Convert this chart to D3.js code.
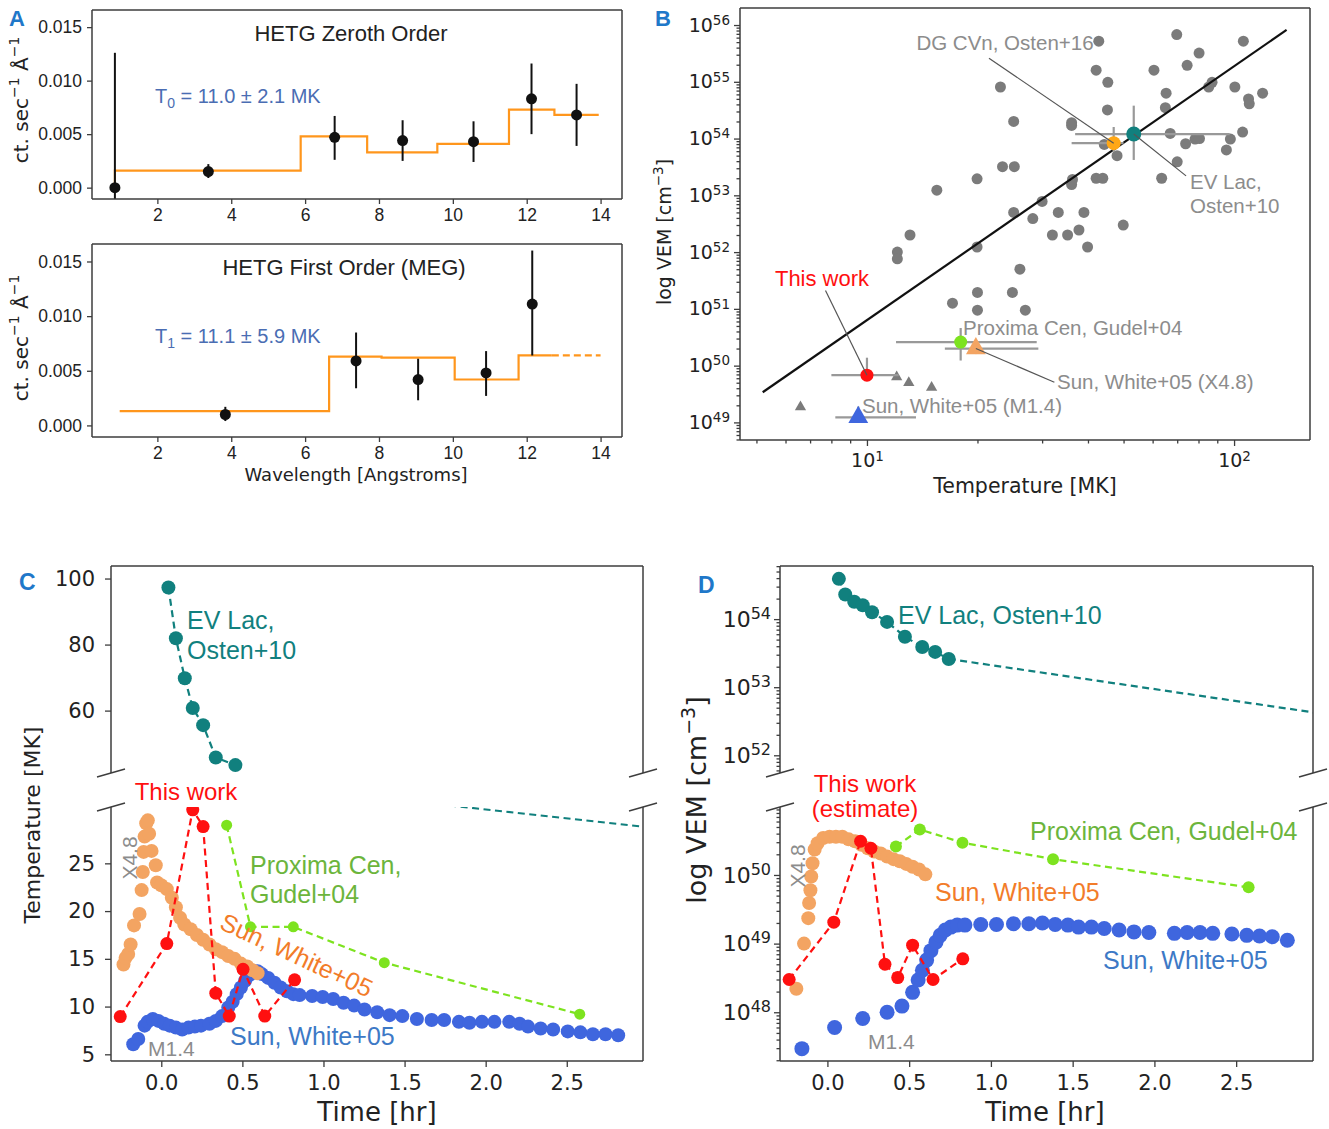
<!DOCTYPE html>
<html>
<head>
<meta charset="utf-8">
<script src="https://cdn.jsdelivr.net/npm/d3@7"></script>
<style>
  body { margin: 0; background: #fff; }
</style>
</head>
<body>
<svg id="fig" width="1329" height="1129"></svg>
<script>
// ---------- panel A: HETG spectra ----------
const waveTicks = [2, 4, 6, 8, 10, 12, 14];
const rateTicks = [0, 0.005, 0.010, 0.015];

const zerothWave = [0.85, 3.38, 6.8, 8.64, 10.56, 12.13, 13.35];
const zerothRate = [0.0000, 0.0015, 0.0047, 0.0044, 0.0043, 0.0083, 0.0068];
const zerothLow  = [-0.0015, 0.0009, 0.0026, 0.0025, 0.0024, 0.0050, 0.0039];
const zerothHigh = [0.0126, 0.0022, 0.0067, 0.0063, 0.0062, 0.0116, 0.0097];
const zerothStepX = [0.85, 0.85, 5.88, 7.68, 9.58, 11.52, 12.75, 13.95];
const zerothStepY = [0.0, 0.0016, 0.0048, 0.0033, 0.0041, 0.0073, 0.0068, 0.0068];

const firstWave = [3.84, 7.38, 9.06, 10.9, 12.15];
const firstRate = [0.0010, 0.0059, 0.0042, 0.0048, 0.0111];
const firstLow  = [0.0004, 0.0034, 0.0023, 0.0027, 0.0064];
const firstHigh = [0.0017, 0.0085, 0.0061, 0.0068, 0.0160];
const firstStepX = [0.98, 6.65, 8.07, 10.05, 11.78, 12.68];
const firstStepY = [0.0013, 0.0063, 0.0062, 0.0042, 0.0064, 0.0064];
const firstExtX = [12.68, 14.0];
const firstExtY = [0.0064, 0.0064];

// ---------- panel B: VEM vs temperature ----------
const flareT = [42.8, 69.8, 106, 80.3, 74.5, 60.5, 42.1, 45.3, 87.1, 85.3, 100.5, 119.6, 109.5, 110,
  65.3, 23.1, 25.1, 45.2, 65.0, 36.1, 36.1, 67.0, 73.8, 78.3, 80.5, 97.7, 105.5, 95.3, 70, 63.5,
  44.3, 48, 42.1, 43.9, 36.3, 36.1, 23.4, 25.2, 19.95, 15.5, 30, 25.1, 28.3, 33.2, 39, 32, 35.2,
  37.8, 39.9, 49.9, 19.95, 13.1, 12.1, 12.1, 26.1, 20, 24.9, 17.1, 20, 27];
const flareVEM = [5.2e55, 6.8e55, 5.2e55, 3.2e55, 1.95e55, 1.6e55, 1.6e55, 9.8e54, 9.8e54, 8.1e54, 8.1e54, 6.3e54, 5.0e54, 4.1e54,
  6.3e54, 8.1e54, 2.0e54, 3.2e54, 3.5e54, 1.9e54, 1.7e54, 1.23e54, 8.1e53, 9.8e53, 1.0e54, 9.8e53, 1.3e54, 6.3e53, 3.9e53, 2.0e53,
  7.9e53, 5.0e53, 2.0e53, 2.0e53, 1.9e53, 1.55e53, 3.2e53, 3.2e53, 1.95e53, 1.23e53, 7.8e52, 5.0e52, 3.9e52, 5.0e52, 5.0e52, 2.0e52, 2.0e52,
  2.45e52, 1.23e52, 3.0e52, 1.23e52, 2.0e52, 1.0e52, 7.6e51, 5.0e51, 1.95e51, 1.95e51, 1.26e51, 9.5e50, 9.5e50];
const solarT = [6.59, 12.05, 13.0, 15.0];
const solarVEM = [1.86e49, 6.3e49, 5.0e49, 4.1e49];
const fitT = [5.2, 139];
const fitVEM = [3.4e49, 8.2e55];

const markedName = ["EV Lac", "DG CVn", "This work", "Proxima Cen", "Sun X4.8", "Sun M1.4"];
const markedT    = [53.3, 47.0, 10.0, 18.0, 19.8, 9.47];
const markedTlo  = [36.9, 36.1, 8.0, 12.0, 16.3, 8.2];
const markedThi  = [97.3, 50.0, 12.2, 29.0, 29.3, 13.6];
const markedVEM  = [1.2e54, 8.3e53, 6.8e49, 2.6e50, 2.0e50, 1.23e49];
const markedVlo  = [4.2e53, 5.9e53, 5.5e49, 1.23e50, 1.6e50, 1.0e49];
const markedVhi  = [3.8e54, 1.6e54, 1.38e50, 4.6e50, 2.7e50, 1.9e49];

// ---------- panels C, D: time evolution ----------
const timeTicks = [0, 0.5, 1.0, 1.5, 2.0, 2.5];

const evLacTime = [0.044, 0.09, 0.145, 0.194, 0.258, 0.336, 0.457];
const evLacTemp = [97.3, 81.9, 69.8, 60.8, 55.6, 45.8, 43.5];
const evLacTempExtTime = [1.0, 3.1];
const evLacTempExt = [32.5, 28.6];
const thisTempTime = [-0.253, 0.034, 0.194, 0.258, 0.336, 0.419, 0.504, 0.638, 0.822];
const thisTemp = [8.95, 16.6, 30.6, 28.85, 11.4, 9.0, 13.9, 9.0, 12.8];
const proxTempTime = [0.403, 0.55, 0.814, 1.375, 2.58];
const proxTemp = [29.0, 18.35, 18.35, 14.6, 9.2];
const x48TempTime = [-0.233, -0.22, -0.204, -0.189, -0.168, -0.134, -0.121, -0.114, -0.109, -0.103, -0.093,
  -0.083, -0.075, -0.06, -0.034, -0.026, 0, 0.034, 0.065, 0.09, 0.116, 0.142, 0.181, 0.22, 0.258, 0.297,
  0.336, 0.375, 0.413, 0.452, 0.491, 0.53, 0.563, 0.594];
const x48Temp = [14.4, 15.1, 15.5, 16.5, 18.5, 19.7, 22.2, 24.1, 26.2, 27.8, 29.2,
  29.5, 28.1, 26.3, 24.8, 23.0, 22.7, 22.3, 21.4, 20.4, 19.3, 18.6, 18.1, 17.5, 17.0, 16.5,
  16.0, 15.7, 15.3, 15.0, 14.5, 14.2, 13.8, 13.5];
const m14TempTime = [-0.173, -0.142, -0.103, -0.085, -0.052, -0.018, 0.018, 0.052, 0.09, 0.129,
  0.168, 0.207, 0.245, 0.297, 0.336, 0.375, 0.413, 0.44, 0.465, 0.491, 0.517, 0.543, 0.568, 0.594, 0.62,
  0.659, 0.698, 0.736, 0.775, 0.814, 0.853, 0.93, 0.995, 1.06, 1.124, 1.189, 1.253, 1.331, 1.408, 1.486,
  1.576, 1.667, 1.744, 1.835, 1.9, 1.977, 2.054, 2.145, 2.209, 2.261, 2.339, 2.416, 2.506, 2.584, 2.661,
  2.739, 2.817];
const m14Temp = [6.05, 6.6, 8.0, 8.4, 8.7, 8.5, 8.2, 8.0, 7.8, 7.6,
  7.8, 7.9, 8.0, 8.2, 8.5, 9.0, 9.9, 10.5, 11.3, 12.0, 12.7, 13.3, 13.7, 13.7, 13.4,
  13.0, 12.5, 12.0, 11.6, 11.3, 11.2, 11.1, 11.0, 10.8, 10.4, 10.1, 9.7, 9.4, 9.1, 9.0,
  8.7, 8.6, 8.6, 8.4, 8.3, 8.4, 8.4, 8.4, 8.2, 7.9, 7.7, 7.6, 7.4, 7.3, 7.1,
  7.1, 7.0];

const evLacVemTime = [0.07, 0.109, 0.164, 0.216, 0.273, 0.365, 0.474, 0.58, 0.659, 0.742];
const evLacVem = [3.9e54, 2.3e54, 1.8e54, 1.6e54, 1.26e54, 9.1e53, 5.5e53, 3.9e53, 3.3e53, 2.6e53];
const evLacVemExtTime = [0.742, 3.1];
const evLacVemExt = [2.6e53, 3.85e52];
const thisVemTime = [-0.234, 0.039, 0.203, 0.266, 0.352, 0.43, 0.521, 0.646, 0.828];
const thisVem = [3.0e48, 2.05e49, 3.1e50, 2.45e50, 5.0e48, 3.2e48, 9.5e48, 3.0e48, 6.0e48];
const proxVemTime = [0.419, 0.565, 0.826, 1.38, 2.576];
const proxVem = [2.6e50, 4.6e50, 2.95e50, 1.7e50, 6.6e49];
const x48VemTime = [-0.19, -0.143, -0.117, -0.112, -0.104, -0.099, -0.091, -0.078, -0.06, -0.026, 0.013,
  0.052, 0.091, 0.13, 0.169, 0.208, 0.247, 0.286, 0.326, 0.365, 0.404, 0.443, 0.482, 0.521, 0.56, 0.599];
const x48Vem = [2.2e48, 1.0e49, 2.35e49, 3.9e49, 6.0e49, 9.5e49, 1.48e50, 2.35e50, 2.9e50, 3.45e50, 3.6e50,
  3.6e50, 3.6e50, 3.3e50, 3.1e50, 2.75e50, 2.45e50, 2.2e50, 2.05e50, 1.85e50, 1.7e50, 1.58e50, 1.45e50, 1.32e50, 1.2e50, 1.02e50];
const m14VemTime = [-0.156, 0.044, 0.216, 0.365, 0.456, 0.521, 0.555, 0.581, 0.607, 0.633,
  0.664, 0.69, 0.721, 0.755, 0.794, 0.841, 0.938, 1.034, 1.138, 1.232,
  1.315, 1.393, 1.471, 1.536, 1.615, 1.693, 1.784, 1.875, 1.966, 2.122,
  2.2, 2.279, 2.357, 2.474, 2.565, 2.643, 2.721, 2.813];
const m14Vem = [2.95e47, 6.0e47, 8.1e47, 1.0e48, 1.23e48, 1.95e48, 2.95e48, 4.1e48, 5.75e48, 7.9e48,
  1.05e49, 1.32e49, 1.58e49, 1.74e49, 1.86e49, 1.86e49, 1.9e49, 1.9e49, 1.95e49, 1.95e49,
  2.0e49, 1.9e49, 1.86e49, 1.74e49, 1.74e49, 1.66e49, 1.58e49, 1.48e49, 1.45e49, 1.41e49,
  1.45e49, 1.45e49, 1.41e49, 1.38e49, 1.32e49, 1.29e49, 1.26e49, 1.12e49];

// ---------- styles ----------
const ink = "#3d3d3d";
const ARIAL = "'Liberation Sans', Arial, sans-serif";
const DEJAVU = "'DejaVu Sans', sans-serif";
const letterBlue = "#1f78c9";
const teal = "#11807e";
const red = "#ff1010";
const green = "#7de31f";
const greenText = "#6cb53c";
const sand = "#f3a462";
const sandText = "#f27c2a";
const royal = "#3f66de";
const royalText = "#3d79c6";
const grayDot = "#7b7b7b";
const grayText = "#8c8c8c";

const svg = d3.select("#fig");

function addText(x, y, str, o = {}) {
  const t = svg.append("text").attr("x", x).attr("y", y)
    .attr("font-family", o.font || ARIAL).attr("font-size", o.size || 18)
    .attr("fill", o.color || "#222").attr("text-anchor", o.anchor || "start");
  if (o.rotate) t.attr("transform", `rotate(${o.rotate},${x},${y})`);
  if (o.weight) t.attr("font-weight", o.weight);
  if (str != null) t.text(str);
  return t;
}

// text made of pieces, some raised (sup) or lowered (sub)
function richText(t, parts, small, shift) {
  let cur = 0;
  parts.forEach(([s, kind]) => {
    const target = kind === "sup" ? -shift : kind === "sub" ? shift * 0.6 : 0;
    const ts = t.append("tspan").attr("dy", target - cur).text(s);
    if (kind) ts.attr("font-size", small);
    cur = target;
  });
  return t;
}

function frame(x0, x1, y0, y1, sides) {
  const g = svg.append("g").attr("stroke", ink).attr("stroke-width", 1.5).attr("fill", "none");
  const seg = (a, b, c, d) => g.append("line").attr("x1", a).attr("y1", b).attr("x2", c).attr("y2", d);
  if (sides.includes("t")) seg(x0, y0, x1, y0);
  if (sides.includes("b")) seg(x0, y1, x1, y1);
  if (sides.includes("l")) seg(x0, y0, x0, y1);
  if (sides.includes("r")) seg(x1, y0, x1, y1);
}

function clip(id, x0, x1, y0, y1) {
  svg.append("clipPath").attr("id", id).append("rect")
    .attr("x", x0).attr("y", y0).attr("width", x1 - x0).attr("height", y1 - y0);
  return svg.append("g").attr("clip-path", `url(#${id})`);
}

function styleAxis(g, size, font) {
  g.attr("font-size", size).attr("font-family", font).attr("color", ink);
  g.select(".domain").remove();
  g.selectAll(".tick line").attr("stroke-width", 1.3);
  g.selectAll(".tick text").attr("fill", "#222");
}

function logTickValues(domain) {
  const out = [];
  const e0 = Math.floor(Math.log10(domain[0])), e1 = Math.floor(Math.log10(domain[1]));
  for (let e = e0; e <= e1; e++) {
    for (let m = 1; m <= 9; m++) {
      const v = m * Math.pow(10, e);
      if (v >= domain[0] && v <= domain[1]) out.push(v);
    }
  }
  return out;
}
const isDecade = v => Math.abs(Math.log10(v) - Math.round(Math.log10(v))) < 1e-6;

function logLabels(g, supSize, orient, minorLen) {
  g.selectAll(".tick").each(function(d) {
    const tick = d3.select(this);
    const txt = tick.select("text");
    if (!isDecade(d)) {
      if (orient === "left") tick.select("line").attr("x2", -minorLen);
      else tick.select("line").attr("y2", minorLen);
      txt.remove();
      return;
    }
    txt.text(null);
    txt.append("tspan").text("10");
    txt.append("tspan").attr("dy", "-0.5em").attr("font-size", supSize).text(Math.round(Math.log10(d)));
  });
}

// ================= PANEL A =================
const xA = d3.scaleLinear().domain([0.23, 14.58]).range([92, 622]);

function spectrumPanel(p) {
  const y = d3.scaleLinear().domain([-0.00106, 0.0166]).range([p.bottom, p.top]);
  const g = clip(p.id, 92, 622, p.top, p.bottom);

  g.append("path").datum(p.stepX.map((v, i) => [v, p.stepY[i]]))
    .attr("d", d3.line().curve(d3.curveStepAfter).x(d => xA(d[0])).y(d => y(d[1])))
    .attr("fill", "none").attr("stroke", "#ff961c").attr("stroke-width", 2.2);
  if (p.extX) {
    g.append("path").datum(p.extX.map((v, i) => [v, p.extY[i]]))
      .attr("d", d3.line().x(d => xA(d[0])).y(d => y(d[1])))
      .attr("fill", "none").attr("stroke", "#ff961c").attr("stroke-width", 2.2)
      .attr("stroke-dasharray", "7,4");
  }
  g.selectAll("line.err").data(p.wave).join("line").attr("class", "err")
    .attr("x1", d => xA(d)).attr("x2", d => xA(d))
    .attr("y1", (d, i) => y(p.low[i])).attr("y2", (d, i) => y(p.high[i]))
    .attr("stroke", "#111").attr("stroke-width", 2);
  g.selectAll("circle").data(p.wave).join("circle")
    .attr("cx", d => xA(d)).attr("cy", (d, i) => y(p.rate[i])).attr("r", 5.5).attr("fill", "#111");

  svg.append("g").attr("transform", `translate(0,${p.bottom})`)
    .call(d3.axisBottom(xA).tickValues(waveTicks).tickSize(5).tickPadding(5))
    .call(styleAxis, 17.5, ARIAL);
  svg.append("g").attr("transform", "translate(92,0)")
    .call(d3.axisLeft(y).tickValues(rateTicks).tickFormat(d3.format(".3f")).tickSize(5).tickPadding(5))
    .call(styleAxis, 17.5, ARIAL);
  frame(92, 622, p.top, p.bottom, "tblr");

  addText(p.titleX, p.top + 31, p.title, { size: 22, anchor: "middle" });
  richText(addText(155, p.tY, null, { size: 20, color: "#4a6db3" }),
    [["T", null], [p.tSub, "sub"], [p.tRest, null]], 14, 8);
  const yl = addText(28, p.labelY, null, { size: 20, font: DEJAVU, anchor: "middle", rotate: -90 });
  richText(yl, [["ct. sec", null], ["\u22121", "sup"], [" \u00c5", null], ["\u22121", "sup"]], 14, 9);
}

spectrumPanel({ id: "clipA1", top: 10, bottom: 199, wave: zerothWave, rate: zerothRate, low: zerothLow,
  high: zerothHigh, stepX: zerothStepX, stepY: zerothStepY, title: "HETG Zeroth Order", titleX: 351,
  tSub: "0", tRest: " = 11.0 \u00b1 2.1 MK", tY: 103, labelY: 100 });
addText(9, 26, "A", { size: 22, weight: "bold", color: letterBlue });
spectrumPanel({ id: "clipA2", top: 244, bottom: 437, wave: firstWave, rate: firstRate, low: firstLow,
  high: firstHigh, stepX: firstStepX, stepY: firstStepY, extX: firstExtX, extY: firstExtY,
  title: "HETG First Order (MEG)", titleX: 344, tSub: "1", tRest: " = 11.1 \u00b1 5.9 MK", tY: 343, labelY: 338 });
addText(356, 481, "Wavelength [Angstroms]", { size: 18, font: DEJAVU, anchor: "middle" });

// ================= PANEL B =================
const xB = d3.scaleLog().domain([4.51, 161]).range([740, 1310]);
const yB = d3.scaleLog().domain([Math.pow(10, 48.69), Math.pow(10, 56.3)]).range([440, 8]);
const gB = clip("clipB", 740, 1310, 8, 440);

gB.selectAll("circle.flare").data(flareT).join("circle").attr("class", "flare")
  .attr("cx", d => xB(d)).attr("cy", (d, i) => yB(flareVEM[i])).attr("r", 5.5).attr("fill", grayDot);
gB.selectAll("path.sun").data(solarT).join("path").attr("class", "sun")
  .attr("d", d3.symbol(d3.symbolTriangle).size(55))
  .attr("transform", (d, i) => `translate(${xB(d)},${yB(solarVEM[i])})`).attr("fill", grayDot);
gB.append("line").attr("x1", xB(fitT[0])).attr("y1", yB(fitVEM[0]))
  .attr("x2", xB(fitT[1])).attr("y2", yB(fitVEM[1])).attr("stroke", "#111").attr("stroke-width", 2.2);

const markStyle = {
  "EV Lac": { color: teal, shape: "circle", r: 7.5 },
  "DG CVn": { color: "#ffa716", shape: "circle", r: 7 },
  "This work": { color: red, shape: "circle", r: 6.5 },
  "Proxima Cen": { color: green, shape: "circle", r: 6.5 },
  "Sun X4.8": { color: sand, shape: "tri", r: 170 },
  "Sun M1.4": { color: royal, shape: "tri", r: 170 }
};
markedName.forEach((n, i) => {
  gB.append("line").attr("x1", xB(markedTlo[i])).attr("x2", xB(markedThi[i]))
    .attr("y1", yB(markedVEM[i])).attr("y2", yB(markedVEM[i])).attr("stroke", "#999").attr("stroke-width", 2.2);
  gB.append("line").attr("x1", xB(markedT[i])).attr("x2", xB(markedT[i]))
    .attr("y1", yB(markedVlo[i])).attr("y2", yB(markedVhi[i])).attr("stroke", "#999").attr("stroke-width", 2.2);
});
markedName.forEach((n, i) => {
  const s = markStyle[n];
  if (s.shape === "circle") {
    gB.append("circle").attr("cx", xB(markedT[i])).attr("cy", yB(markedVEM[i])).attr("r", s.r).attr("fill", s.color);
  } else {
    gB.append("path").attr("d", d3.symbol(d3.symbolTriangle).size(s.r))
      .attr("transform", `translate(${xB(markedT[i])},${yB(markedVEM[i])})`).attr("fill", s.color);
  }
});

// leader lines from label to point
function leader(t0, v0, t1, v1) {
  svg.append("line").attr("x1", xB(t0)).attr("y1", yB(v0)).attr("x2", xB(t1)).attr("y2", yB(v1))
    .attr("stroke", "#555").attr("stroke-width", 1.2);
}
leader(21.5, 2.6e55, markedT[1], markedVEM[1]);
leader(markedT[0], markedVEM[0], 74, 2.2e53);
leader(7.71, 2.1e51, markedT[2], markedVEM[2]);
leader(markedT[4], markedVEM[4], 32.4, 5.1e49);

const bxAxis = svg.append("g").attr("transform", "translate(0,440)")
  .call(d3.axisBottom(xB).tickValues(logTickValues(xB.domain())).tickSize(6).tickPadding(8))
  .call(styleAxis, 19, DEJAVU);
logLabels(bxAxis, 13.5, "bottom", 3.5);
const byAxis = svg.append("g").attr("transform", "translate(740,0)")
  .call(d3.axisLeft(yB).tickValues(logTickValues(yB.domain())).tickSize(6).tickPadding(4))
  .call(styleAxis, 19, DEJAVU);
logLabels(byAxis, 13.5, "left", 3.5);
frame(740, 1310, 8, 440, "tblr");

addText(1005, 50, "DG CVn, Osten+16", { size: 20.5, color: grayText, anchor: "middle" });
addText(1190, 189, "EV Lac,", { size: 20.5, color: grayText });
addText(1190, 213, "Osten+10", { size: 20.5, color: grayText });
addText(822, 286, "This work", { size: 22, color: red, anchor: "middle" });
addText(963, 335, "Proxima Cen, Gudel+04", { size: 20.5, color: grayText });
addText(1057, 389, "Sun, White+05 (X4.8)", { size: 20.5, color: grayText });
addText(862, 413, "Sun, White+05 (M1.4)", { size: 20.5, color: grayText });
addText(1025, 493, "Temperature [MK]", { size: 20.5, font: DEJAVU, anchor: "middle" });
richText(addText(671, 232, null, { size: 19, font: DEJAVU, anchor: "middle", rotate: -90 }),
  [["log VEM [cm", null], ["\u22123", "sup"], ["]", null]], 13.5, 8);
addText(655, 26, "B", { size: 22, weight: "bold", color: letterBlue });

// ================= PANELS C & D =================
const upTop = 566, upBot = 773, lowTop = 807, lowBot = 1061;

function series(gs, x, ys, ts, vs, o) {
  gs.forEach((g, k) => {
    const y = ys[k];
    const line = d3.line().x(d => x(d[0])).y(d => y(d[1]));
    if (o.dash) {
      g.append("path").datum(ts.map((t, i) => [t, vs[i]])).attr("d", line)
        .attr("fill", "none").attr("stroke", o.color).attr("stroke-width", 2.2)
        .attr("stroke-dasharray", "7,4.5");
    }
    if (o.extT) {
      g.append("path").datum(o.extT.map((t, i) => [t, o.extV[i]])).attr("d", line)
        .attr("fill", "none").attr("stroke", o.color).attr("stroke-width", 2.2)
        .attr("stroke-dasharray", "7,4.5");
    }
    g.append("g").selectAll("circle").data(ts).join("circle")
      .attr("cx", d => x(d)).attr("cy", (d, i) => y(vs[i])).attr("r", o.r).attr("fill", o.color);
  });
}

function breakMarks(x0, x1, y) {
  [x0, x1].forEach(x => svg.append("line").attr("x1", x - 14).attr("y1", y + 4).attr("x2", x + 14).attr("y2", y - 4)
    .attr("stroke", ink).attr("stroke-width", 1.5));
}

// ---- C ----
const xC = d3.scaleLinear().domain([-0.31, 2.97]).range([111, 643]);
const yCup = d3.scaleLinear().domain([41.1, 103.8]).range([upBot, upTop]);
const yClow = d3.scaleLinear().domain([4.3, 30.9]).range([lowBot, lowTop]);
const gCup = clip("clipCup", 111, 643, upTop, upBot);
const gClow = clip("clipClow", 111, 643, lowTop, lowBot);
const cG = [gCup, gClow], cY = [yCup, yClow];

series(cG, xC, cY, m14TempTime, m14Temp, { color: royal, r: 7 });
series(cG, xC, cY, x48TempTime, x48Temp, { color: sand, r: 7 });
series(cG, xC, cY, thisTempTime, thisTemp, { color: red, r: 6.5, dash: true });
series(cG, xC, cY, proxTempTime, proxTemp, { color: green, r: 5.5, dash: true });
series(cG, xC, cY, evLacTime, evLacTemp, { color: teal, r: 7, dash: true, extT: evLacTempExtTime, extV: evLacTempExt });

svg.append("g").attr("transform", `translate(0,${lowBot})`)
  .call(d3.axisBottom(xC).tickValues(timeTicks).tickFormat(d3.format(".1f")).tickSize(6).tickPadding(8))
  .call(styleAxis, 21, DEJAVU);
svg.append("g").attr("transform", "translate(111,0)")
  .call(d3.axisLeft(yCup).tickValues([60, 80, 100]).tickSize(6).tickPadding(10))
  .call(styleAxis, 21, DEJAVU);
svg.append("g").attr("transform", "translate(111,0)")
  .call(d3.axisLeft(yClow).tickValues([5, 10, 15, 20, 25]).tickSize(6).tickPadding(10))
  .call(styleAxis, 21, DEJAVU);
frame(111, 643, upTop, upBot, "tlr");
frame(111, 643, lowTop, lowBot, "blr");
breakMarks(111, 643, upBot);
breakMarks(111, 643, lowTop);

addText(187, 629, "EV Lac,", { size: 25, color: teal });
addText(187, 659, "Osten+10", { size: 25, color: teal });
addText(186, 800, "This work", { size: 24, color: red, anchor: "middle" });
addText(137, 858, "X4.8", { size: 21, color: grayText, anchor: "middle", rotate: -90 });
addText(250, 874, "Proxima Cen,", { size: 25, color: greenText });
addText(250, 903, "Gudel+04", { size: 25, color: greenText });
addText(293, 963, "Sun, White+05", { size: 25, color: sandText, anchor: "middle", rotate: 25 });
addText(230, 1045, "Sun, White+05", { size: 25, color: royalText });
addText(148, 1056, "M1.4", { size: 21, color: grayText });
addText(40, 825, "Temperature [MK]", { size: 22, font: DEJAVU, anchor: "middle", rotate: -90 });
addText(377, 1121, "Time [hr]", { size: 26, font: DEJAVU, anchor: "middle" });
addText(19, 590, "C", { size: 23, weight: "bold", color: letterBlue });

// ---- D ----
const xD = d3.scaleLinear().domain([-0.29, 2.97]).range([780, 1313]);
const yDup = d3.scaleLog().domain([Math.pow(10, 51.74), Math.pow(10, 54.78)]).range([upBot, upTop]);
const yDlow = d3.scaleLog().domain([Math.pow(10, 47.29), Math.pow(10, 50.99)]).range([lowBot, lowTop]);
const gDup = clip("clipDup", 780, 1313, upTop, upBot);
const gDlow = clip("clipDlow", 780, 1313, lowTop, lowBot);
const dG = [gDup, gDlow], dY = [yDup, yDlow];

series(dG, xD, dY, m14VemTime, m14Vem, { color: royal, r: 7.5 });
series(dG, xD, dY, x48VemTime, x48Vem, { color: sand, r: 7 });
series(dG, xD, dY, thisVemTime, thisVem, { color: red, r: 6.5, dash: true });
series(dG, xD, dY, proxVemTime, proxVem, { color: green, r: 6, dash: true });
series(dG, xD, dY, evLacVemTime, evLacVem, { color: teal, r: 7, dash: true, extT: evLacVemExtTime, extV: evLacVemExt });

svg.append("g").attr("transform", `translate(0,${lowBot})`)
  .call(d3.axisBottom(xD).tickValues(timeTicks).tickFormat(d3.format(".1f")).tickSize(6).tickPadding(8))
  .call(styleAxis, 21, DEJAVU);
const dUpAxis = svg.append("g").attr("transform", "translate(780,0)")
  .call(d3.axisLeft(yDup).tickValues(logTickValues(yDup.domain())).tickSize(6).tickPadding(3))
  .call(styleAxis, 22, DEJAVU);
logLabels(dUpAxis, 16, "left", 3.5);
const dLowAxis = svg.append("g").attr("transform", "translate(780,0)")
  .call(d3.axisLeft(yDlow).tickValues(logTickValues(yDlow.domain())).tickSize(6).tickPadding(3))
  .call(styleAxis, 22, DEJAVU);
logLabels(dLowAxis, 16, "left", 3.5);
frame(780, 1313, upTop, upBot, "tlr");
frame(780, 1313, lowTop, lowBot, "blr");
breakMarks(780, 1313, upBot);
breakMarks(780, 1313, lowTop);

addText(898, 624, "EV Lac, Osten+10", { size: 25, color: teal });
addText(865, 792, "This work", { size: 24, color: red, anchor: "middle" });
addText(865, 817, "(estimate)", { size: 24, color: red, anchor: "middle" });
addText(805, 866, "X4.8", { size: 21, color: grayText, anchor: "middle", rotate: -90 });
addText(1030, 840, "Proxima Cen, Gudel+04", { size: 25, color: greenText });
addText(935, 901, "Sun, White+05", { size: 25, color: sandText });
addText(1103, 969, "Sun, White+05", { size: 25, color: royalText });
addText(868, 1049, "M1.4", { size: 21, color: grayText });
richText(addText(706, 800, null, { size: 27, font: DEJAVU, anchor: "middle", rotate: -90 }),
  [["log VEM [cm", null], ["\u22123", "sup"], ["]", null]], 19, 11);
addText(1045, 1121, "Time [hr]", { size: 26, font: DEJAVU, anchor: "middle" });
addText(698, 593, "D", { size: 23, weight: "bold", color: letterBlue });
</script>
</body>
</html>
